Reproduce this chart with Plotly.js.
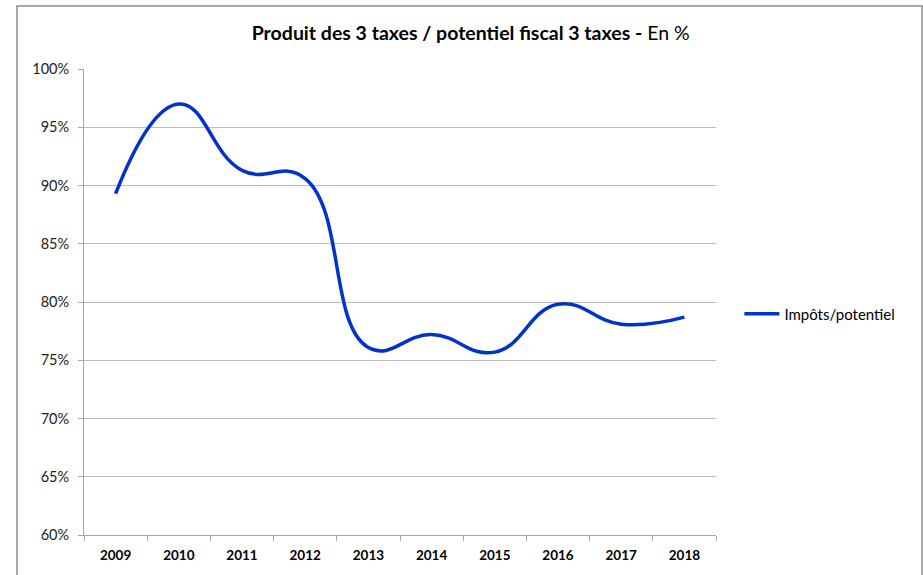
<!DOCTYPE html>
<html>
<head>
<meta charset="utf-8">
<script src="https://cdn.plot.ly/plotly-3.0.1.min.js"></script>
<style>html,body{margin:0;padding:0;background:#fff;}#chart{width:923px;height:575px;}</style>
</head>
<body>
<div id="chart"></div>
<script>
const years = ["2009","2010","2011","2012","2013","2014","2015","2016","2017","2018"];
const ratio = [0.893, 0.970, 0.913, 0.906, 0.761, 0.772, 0.757, 0.798, 0.781, 0.787];
const seriesName = "Impôts/potentiel";
const yTicks = [0.60,0.65,0.70,0.75,0.80,0.85,0.90,0.95,1.00];
const yTickText = ["60%","65%","70%","75%","80%","85%","90%","95%","100%"];

const FONT = "Lato, 'Open Sans', sans-serif";
const trace = {
  x: years, y: ratio, type: "scatter", mode: "lines", name: seriesName,
  line: {color: "#0033cc", width: 3.5, shape: "spline", smoothing: 1.3}
};
const layout = {
  width: 923, height: 575,
  margin: {l: 84, r: 207, t: 69, b: 40},
  paper_bgcolor: "#ffffff", plot_bgcolor: "#ffffff",
  font: {family: FONT, color: "#000"},
  title: {text: "<b>Produit des 3 taxes / potentiel fiscal 3 taxes -</b> En %",
    x: 0.51, xanchor: "center", y: 0.942, yanchor: "middle",
    font: {size: 19.5, family: FONT, color: "#000"}},
  xaxis: {type: "category", showgrid: false, showline: true, linecolor: "#a6a6a6", linewidth: 1,
    ticks: "outside", tickson: "boundaries", ticklen: 5, tickcolor: "#a6a6a6",
    ticklabelstandoff: 8,
    tickfont: {size: 13.5, family: FONT, color: "#000", weight: "bold"},
    range: [-0.5, 9.5], fixedrange: true},
  yaxis: {range: [0.60, 1.00], tickvals: yTicks, ticktext: yTickText,
    showgrid: true, gridcolor: "#bcbcbc", gridwidth: 1, zeroline: false,
    showline: true, linecolor: "#a6a6a6", linewidth: 1,
    ticks: "outside", ticklen: 5, tickcolor: "#a6a6a6",
    ticklabelstandoff: 6,
    tickfont: {size: 14.5, family: FONT, color: "#222"}},
  showlegend: true,
  legend: {x: 1.037, y: 0.474, xanchor: "left", yanchor: "middle", bgcolor: "rgba(0,0,0,0)",
    font: {size: 15, family: FONT, color: "#000"}, itemwidth: 35},
  shapes: [{type: "rect", xref: "paper", yref: "paper", x0: -0.106, x1: 1.326, y0: -0.2, y1: 1.135,
    line: {color: "#8c8c8c", width: 1.5}, fillcolor: "rgba(0,0,0,0)", layer: "below"}]
};
Plotly.newPlot("chart", [trace], layout, {displayModeBar: false, staticPlot: true});
</script>
</body>
</html>
